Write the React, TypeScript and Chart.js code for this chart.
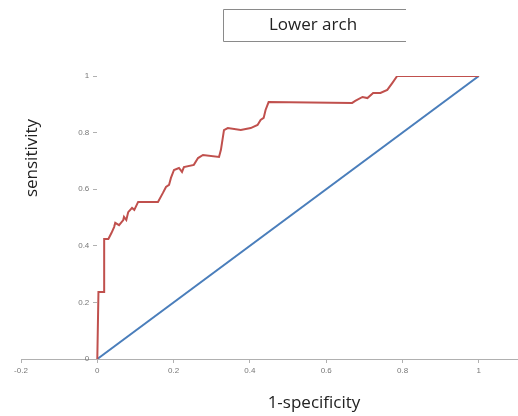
import React, { useEffect, useRef } from "react";
import { Chart, registerables } from "chart.js";

Chart.register(...registerables);

const titleText = "Lower arch";
const xTitle = "1-specificity";
const yTitle = "sensitivity";

const rocX = [0, 0.003, 0.018, 0.018, 0.029, 0.037, 0.044, 0.047, 0.057, 0.068, 0.07, 0.076, 0.081, 0.091, 0.097, 0.107, 0.159, 0.172, 0.18, 0.188, 0.193, 0.201, 0.214, 0.222, 0.227, 0.253, 0.264, 0.277, 0.319, 0.324, 0.332, 0.342, 0.376, 0.402, 0.42, 0.428, 0.436, 0.441, 0.449, 0.668, 0.676, 0.695, 0.708, 0.723, 0.742, 0.76, 0.773, 0.786, 1.0];
const rocY = [0, 0.237, 0.237, 0.424, 0.424, 0.445, 0.466, 0.481, 0.473, 0.491, 0.502, 0.491, 0.519, 0.534, 0.527, 0.555, 0.555, 0.587, 0.608, 0.615, 0.64, 0.668, 0.675, 0.661, 0.678, 0.686, 0.71, 0.721, 0.714, 0.739, 0.809, 0.816, 0.809, 0.816, 0.827, 0.845, 0.852, 0.88, 0.908, 0.905, 0.912, 0.926, 0.922, 0.94, 0.94, 0.951, 0.975, 1.0, 1.0];

const refX = [0, 1];
const refY = [0, 1];

const xTicks = [-0.2, 0, 0.2, 0.4, 0.6, 0.8, 1];
const yTicks = [0, 0.2, 0.4, 0.6, 0.8, 1];

const fmt = (v: number) => String(Math.round(v * 10) / 10);

export default function App() {
  const ref = useRef<HTMLCanvasElement | null>(null);
  useEffect(() => {
    document.body.style.margin = "0";
    const canvas = ref.current!;
    const textPlugin = {
      id: "texts",
      afterDraw(chart: any) {
        const ctx = chart.ctx as CanvasRenderingContext2D;
        ctx.save();
        // y tick labels
        const xs = chart.scales.x;
        const ys = chart.scales.y;
        const x0 = xs.getPixelForValue(0);
        ctx.fillStyle = "#777";
        ctx.font = "8px 'Liberation Sans', sans-serif";
        ctx.textAlign = "right";
        ctx.textBaseline = "middle";
        yTicks.forEach((v) => {
          ctx.fillText(fmt(v), x0 - 8, ys.getPixelForValue(v));
        });
        // title box
        ctx.strokeStyle = "#8a8a8a";
        ctx.lineWidth = 1;
        ctx.beginPath();
        ctx.moveTo(406, 9.5);
        ctx.lineTo(223.5, 9.5);
        ctx.lineTo(223.5, 41.5);
        ctx.lineTo(406, 41.5);
        ctx.stroke();
        ctx.fillStyle = "#222";
        ctx.font = "17px 'Open Sans', 'Noto Sans', sans-serif";
        ctx.textAlign = "center";
        ctx.textBaseline = "middle";
        ctx.fillText(titleText, 313, 25);
        // x title
        ctx.fillText(xTitle, 314, 403);
        // y title
        ctx.translate(32, 158);
        ctx.rotate(-Math.PI / 2);
        ctx.fillText(yTitle, 0, 0);
        ctx.restore();
      },
    };
    const chart = new Chart(canvas, {
      type: "line",
      data: {
        datasets: [
          {
            data: rocX.map((x, i) => ({ x, y: rocY[i] })),
            borderColor: "#c0504d",
            borderWidth: 2,
            pointRadius: 0,
            tension: 0,
          },
          {
            data: refX.map((x, i) => ({ x, y: refY[i] })),
            borderColor: "#4a7ebb",
            borderWidth: 2,
            pointRadius: 0,
            tension: 0,
          },
        ],
      },
      options: {
        responsive: false,
        animation: false,
        layout: { padding: { left: 21, right: 1, top: 76, bottom: 0 } },
        plugins: { legend: { display: false }, tooltip: { enabled: false } },
        scales: {
          x: {
            type: "linear",
            min: -0.2,
            max: 1.1,
            afterBuildTicks: (s: any) => {
              s.ticks = xTicks.map((v) => ({ value: v }));
            },
            afterFit: (s: any) => {
              s.height = 57;
            },
            grid: { drawOnChartArea: false, drawTicks: true, tickLength: 4, color: "#b0b0b0" },
            border: { display: true, color: "#b0b0b0" },
            ticks: {
              font: { size: 8, family: "'Liberation Sans', sans-serif" },
              color: "#777",
              padding: 3,
              maxRotation: 0,
              callback: (v: any) => fmt(Number(v)),
            },
          },
          y: {
            type: "linear",
            min: 0,
            max: 1,
            position: { x: 0 } as any,
            afterBuildTicks: (s: any) => {
              s.ticks = yTicks.map((v) => ({ value: v }));
            },
            grid: { drawOnChartArea: false, drawTicks: true, tickLength: 4, color: "#b0b0b0" },
            border: { display: false },
            ticks: { display: false },
          },
        },
      },
      plugins: [textPlugin],
    });
    return () => chart.destroy();
  }, []);
  return (
    <div style={{ width: 518, height: 416 }}>
      <canvas ref={ref} width={518} height={416} style={{ display: "block" }} />
    </div>
  );
}
